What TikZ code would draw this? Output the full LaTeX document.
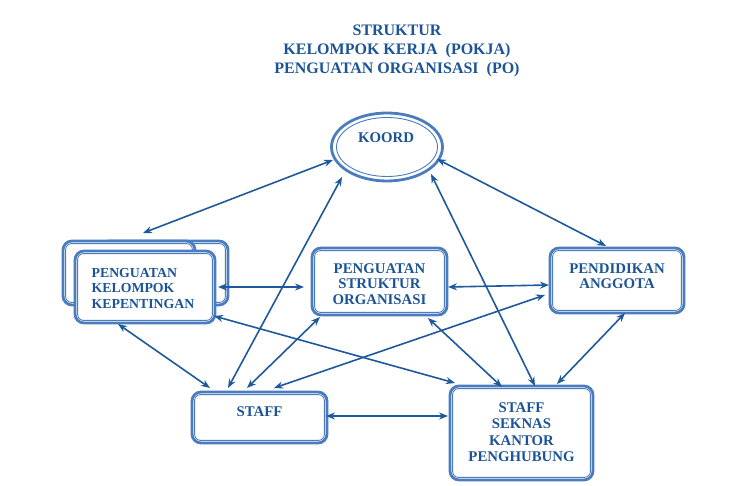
\documentclass[tikz,border=0pt]{standalone}
\usepackage{fontspec}
\setmainfont{Liberation Serif}
\usetikzlibrary{shapes.geometric,arrows.meta,calc}
\definecolor{txtblue}{RGB}{28,84,150}
\definecolor{boxblue}{RGB}{75,125,190}
\definecolor{arrblue}{RGB}{30,90,155}
\newcommand\innerbox[1]{\draw[boxblue, line width=0.9pt, rounded corners=6pt] ([shift={(4pt,-4pt)}]#1.north west) rectangle ([shift={(-4pt,4pt)}]#1.south east);}
\begin{document}
\begin{tikzpicture}[x=1pt,y=-1pt,
  box/.style={draw=boxblue, line width=2.8pt, rounded corners=9pt, fill=white, inner sep=0pt, rectangle},
  lbl/.style={text=txtblue, font=\fontsize{14.8}{15.5}\selectfont\bfseries, align=center, inner sep=0pt},
  link/.style={draw=arrblue, line width=1.6pt, {Stealth[length=9pt,width=7pt]}-{Stealth[length=9pt,width=7pt]}},
]
\useasboundingbox (0,0) rectangle (741,486);
\fill[white] (0,0) rectangle (741,486);

% title
\node[text=txtblue, font=\fontsize{16}{19}\selectfont\bfseries, align=center, inner sep=0pt] (title) at (397,51)
  {STRUKTUR\\KELOMPOK KERJA~ (POKJA)\\PENGUATAN ORGANISASI~ (PO)};

% KOORD
\node[ellipse, draw=boxblue, line width=2.8pt, fill=white, minimum width=111pt, minimum height=68pt, inner sep=0pt] (koord) at (387,147) {};
\draw[boxblue, line width=0.9pt] (koord.center) ellipse [x radius=50.5pt, y radius=29.5pt];
\node[lbl] (koordt) at (386,138) {KOORD};

% PKK stacked boxes
\node[box, minimum width=128pt, minimum height=64pt] (pkkb2) at (164,273) {};
\innerbox{pkkb2}
\node[box, minimum width=132pt, minimum height=64pt] (pkkb1) at (129,273) {};
\innerbox{pkkb1}
\node[box, minimum width=140pt, minimum height=72pt] (pkk) at (145,287) {};
\innerbox{pkk}
\node[lbl, align=left, font=\fontsize{13.8}{15.5}\selectfont\bfseries] (pkkt) at (143,288) {PENGUATAN\\KELOMPOK\\KEPENTINGAN};

% PSO
\node[box, minimum width=135pt, minimum height=67pt] (pso) at (379.5,281.5) {};
\innerbox{pso}
\node[lbl] (psot) at (379.5,284) {PENGUATAN\\STRUKTUR\\ORGANISASI};

% PENDIDIKAN
\node[box, minimum width=134pt, minimum height=65pt] (pend) at (617,280.5) {};
\innerbox{pend}
\node[lbl] (pendt) at (617,276) {PENDIDIKAN\\ANGGOTA};

% STAFF
\node[box, minimum width=135pt, minimum height=51pt] (staff) at (259.5,417.5) {};
\innerbox{staff}
\node[lbl] (stafft) at (259.5,412) {STAFF};

% SEKNAS
\node[box, minimum width=143pt, minimum height=94pt] (seknas) at (521.5,433) {};
\innerbox{seknas}
\node[lbl, font=\fontsize{14.8}{16.5}\selectfont\bfseries] (seknast) at (521.5,432) {STAFF\\SEKNAS\\KANTOR\\PENGHUBUNG};

% connectors
\draw[link] ($(koord.center)+(-54,13)$) -- ($(pkkb1.center)+(14,-40)$);
\draw[link] ($(koord.center)+(-45,30)$) -- ($(staff.center)+(-31.5,-29.5)$);
\draw[link] ($(koord.center)+(50,12)$) -- ($(pend.center)+(-11,-34.5)$);
\draw[link] ($(koord.center)+(44,27)$) -- ($(seknas.center)+(13.5,-47)$);
\draw[link] ($(pkk.center)+(73,0)$) -- ($(pso.center)+(-75.5,5.5)$);
\draw[link] ($(pso.center)+(68.5,5.5)$) -- ($(pend.center)+(-68,4.5)$);
\draw[link] ($(pkk.center)+(-27,37)$) -- ($(staff.center)+(-49.5,-29.5)$);
\draw[link] ($(pkk.center)+(69,29)$) -- ($(seknas.center)+(-66.5,-50)$);
\draw[link] ($(pso.center)+(-59.5,35.5)$) -- ($(staff.center)+(-12.5,-29.5)$);
\draw[link] ($(pso.center)+(48.5,36.5)$) -- ($(seknas.center)+(-19.5,-46)$);
\draw[link] ($(pend.center)+(-72,14.5)$) -- ($(staff.center)+(14.5,-29.5)$);
\draw[link] ($(pend.center)+(8,32.5)$) -- ($(seknas.center)+(35.5,-49)$);
\draw[link] ($(staff.center)+(66.5,-1.5)$) -- ($(seknas.center)+(-73.5,-17)$);
\end{tikzpicture}
\end{document}
